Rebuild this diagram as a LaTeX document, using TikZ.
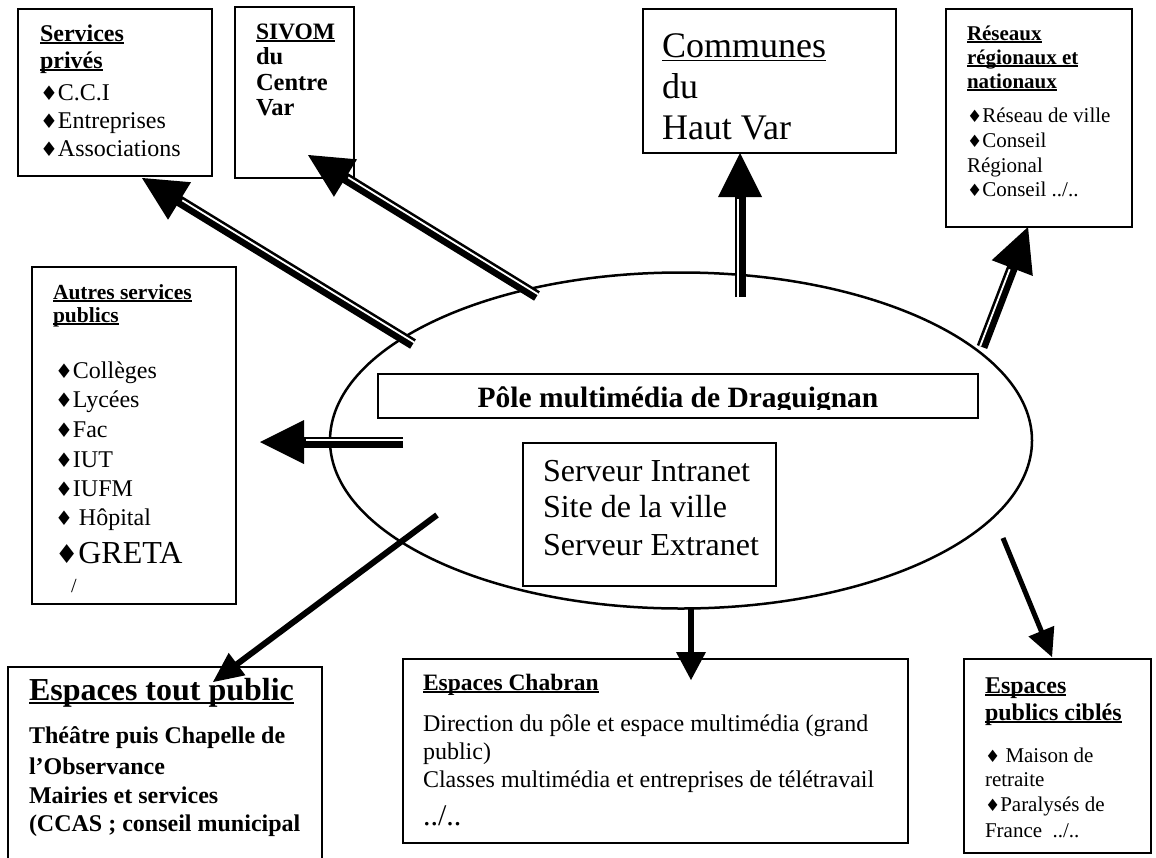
\documentclass[tikz,border=0pt]{standalone}
\usepackage{fontspec}
\setmainfont{Liberation Serif}
\newfontfamily\symf{DejaVu Sans}
\usetikzlibrary{calc,fit,shapes.geometric}
\newsavebox\ulbox
\newcommand\fs[1]{\fontsize{#1}{#1}\selectfont}
\newcommand\ulx[3]{\sbox\ulbox{#3}\rlap{\rule[-#1]{\wd\ulbox}{#2}}\usebox\ulbox}
\newcommand\dm[1]{{\symf\fontsize{#1}{#1}\selectfont ♦}}
\newcommand\lnx[2]{\vskip#1\hbox{\smash{#2}}}
\newcommand\myhead[4]{\coordinate (hb) at ($(#2)!#3!(#1)$);\fill (#2) -- ($(hb)!#4!90:(#2)$) -- ($(hb)!#4!-90:(#2)$) -- cycle;}
\newcommand\dblarr[3]{\myhead{#1}{#2}{44pt}{22pt}\draw[line width=11pt] (#1) -- ($(hb)!2pt!(#2)$);\coordinate (sf) at ($(#2)!46pt!(#1)$);\draw[white,line width=1.8pt] ($(#1)!2pt!#3:(#2)$) -- ($(sf)!2pt!#3:(#2)$);}
\newcommand\sglarr[5]{\myhead{#1}{#2}{#4}{#5}\draw[line width=#3] (#1) -- ($(hb)!2pt!(#2)$);}
\begin{document}
\begin{tikzpicture}[x=1pt,y=-1pt,
  box/.style={draw,line width=1.6pt,inner sep=0pt},
  txt/.style={anchor=base west,inner sep=0pt,outer sep=0pt}]
\fill[white] (0,0) rectangle (1156,857);
\useasboundingbox (0,0) rectangle (1156,857);

% central ellipse
\node[draw,ellipse,line width=2.5pt,minimum width=702pt,minimum height=336pt,inner sep=0pt] (ell) at (681,440.5) {};
\node[box,fit={(378,374) (978,418)}] (polebox) {};
\begin{scope}
\clip (378,374) rectangle (978,409);
\node[anchor=base,inner sep=0pt] (polet) at (678,407) {\fs{29.5}\bfseries Pôle multimédia de Draguignan};
\end{scope}
\node[box,fit={(523,443) (776,586)}] (servbox) {};
\node[txt] (servt) at (543,481) {\vtop{\offinterlineskip
 \lnx{0pt}{\fs{32}Serveur Intranet}
 \lnx{36pt}{\fs{32}Site de la ville}
 \lnx{38pt}{\fs{32}Serveur Extranet}}};

% boxes
\node[box,fit={(18,9) (212,176)}] (svcbox) {};
\node[txt] (svct) at (40,41) {\vtop{\offinterlineskip
 \lnx{0pt}{\fs{24}\bfseries\ulx{3pt}{1.8pt}{Services}}
 \lnx{27pt}{\fs{24}\bfseries\ulx{3pt}{1.8pt}{privés}}
 \lnx{32pt}{\fs{24}\dm{20}C.C.I}
 \lnx{28pt}{\fs{24}\dm{20}Entreprises}
 \lnx{28pt}{\fs{24}\dm{20}Associations}}};

\node[box,fit={(235,7) (354,178)}] (sivombox) {};
\node[txt] (sivomt) at (256,39) {\vtop{\offinterlineskip
 \lnx{0pt}{\fs{23.5}\bfseries\ulx{3pt}{1.8pt}{SIVOM}}
 \lnx{25pt}{\fs{24.5}\bfseries du}
 \lnx{26pt}{\fs{24.5}\bfseries Centre}
 \lnx{25pt}{\fs{24.5}\bfseries Var}}};

\node[box,fit={(643,9) (896,153)}] (commbox) {};
\node[txt] (commt) at (662,57) {\vtop{\offinterlineskip
 \lnx{0pt}{\fs{36}\ulx{4pt}{1.5pt}{Communes}}
 \lnx{41pt}{\fs{36}du}
 \lnx{41pt}{\fs{36}Haut Var}}};

\node[box,fit={(946,9) (1132,227)}] (resbox) {};
\node[txt] (rest) at (967,40) {\vtop{\offinterlineskip
 \lnx{0pt}{\fs{21}\bfseries\ulx{3pt}{1.6pt}{Réseaux}}
 \lnx{24pt}{\fs{21}\bfseries\ulx{3pt}{1.6pt}{régionaux et}}
 \lnx{24pt}{\fs{21}\bfseries\ulx{3pt}{1.6pt}{nationaux}}
 \lnx{34pt}{\fs{21}\dm{17}Réseau de ville}
 \lnx{25pt}{\fs{21}\dm{17}Conseil}
 \lnx{25pt}{\fs{21}Régional}
 \lnx{24pt}{\fs{21}\dm{17}Conseil ../..}}};

\node[box,fit={(32,267) (236,604)}] (autbox) {};
\node[txt] (autt) at (53,299) {\vtop{\offinterlineskip
 \lnx{0pt}{\fs{21.5}\bfseries\ulx{3pt}{1.6pt}{Autres services}}
 \lnx{23pt}{\fs{21.5}\bfseries\ulx{3pt}{1.6pt}{publics}}
 \lnx{56pt}{\fs{24}\hspace*{2pt}\dm{20}Collèges}
 \lnx{29pt}{\fs{24}\hspace*{2pt}\dm{20}Lycées}
 \lnx{30pt}{\fs{24}\hspace*{2pt}\dm{20}Fac}
 \lnx{30pt}{\fs{24}\hspace*{2pt}\dm{20}IUT}
 \lnx{29pt}{\fs{24}\hspace*{2pt}\dm{20}IUFM}
 \lnx{29pt}{\fs{24}\hspace*{2pt}\dm{20} Hôpital}
 \lnx{38pt}{\fs{32}\hspace*{2pt}\dm{26}GRETA}
 \lnx{29pt}{\fs{20}\hspace*{18pt}/}}};

\node[box,fit={(8,667) (322,900)}] (toutbox) {};
\node[txt] (toutt) at (29,700) {\vtop{\offinterlineskip
 \lnx{0pt}{\fs{32}\bfseries\ulx{4pt}{2.4pt}{Espaces tout public}}
 \lnx{43pt}{\fs{24}\bfseries Théâtre puis Chapelle de}
 \lnx{31pt}{\fs{24}\bfseries l’Observance}
 \lnx{29pt}{\fs{24}\bfseries Mairies et services}
 \lnx{28pt}{\fs{24}\bfseries (CCAS ; conseil municipal}}};

\node[box,fit={(403,659) (908,843)}] (chabbox) {};
\node[txt] (chabt) at (423,690) {\vtop{\offinterlineskip
 \lnx{0pt}{\fs{23.5}\bfseries\ulx{3pt}{1.8pt}{Espaces Chabran}}
 \lnx{41pt}{\fs{24}Direction du pôle et espace multimédia (grand}
 \lnx{28pt}{\fs{24}public)}
 \lnx{28pt}{\fs{24}Classes multimédia et entreprises de télétravail}
 \lnx{38pt}{\fs{30}../..}}};

\node[box,fit={(964,659) (1151,853)}] (ciblebox) {};
\node[txt] (ciblet) at (985,693) {\vtop{\offinterlineskip
 \lnx{0pt}{\fs{24}\bfseries\ulx{3pt}{1.8pt}{Espaces}}
 \lnx{27pt}{\fs{24}\bfseries\ulx{3pt}{1.8pt}{publics ciblés}}
 \lnx{42pt}{\fs{21}\dm{17} Maison de}
 \lnx{24pt}{\fs{21}retraite}
 \lnx{25pt}{\fs{21}\dm{17}Paralysés de}
 \lnx{26pt}{\fs{21}France~ ../..}}};

% arrow end points
\coordinate (svcT) at (413,344);   \coordinate (svcH) at (142,178);
\coordinate (sivT) at (537,296);   \coordinate (sivH) at (308,155);
\coordinate (comT) at (740,297);   \coordinate (comH) at (740,153);
\coordinate (resT) at (982,347);   \coordinate (resH) at (1028,227);
\coordinate (autT) at (403,442);   \coordinate (autH) at (260,442);
\coordinate (touT) at (437,515);   \coordinate (touH) at (213,682);
\coordinate (chaT) at (691,608);   \coordinate (chaH) at (691,680);
\coordinate (cibT) at (1003,538);  \coordinate (cibH) at (1052,657);

\dblarr{svcT}{svcH}{-90}
\dblarr{sivT}{sivH}{-90}
\dblarr{comT}{comH}{90}
\dblarr{resT}{resH}{90}
\dblarr{autT}{autH}{-90}
\sglarr{touT}{touH}{6pt}{30pt}{14pt}
\sglarr{chaT}{chaH}{6.5pt}{28pt}{15pt}
\sglarr{cibT}{cibH}{5pt}{28pt}{14pt}
\end{tikzpicture}
\end{document}
